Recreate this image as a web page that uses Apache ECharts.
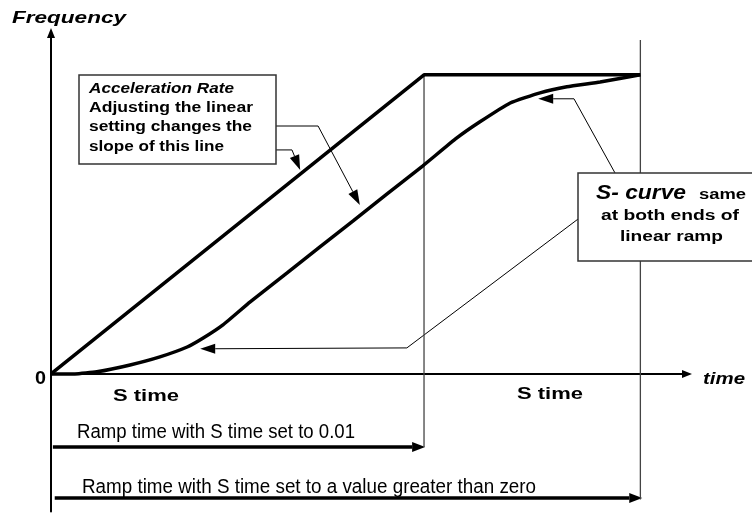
<!DOCTYPE html>
<html>
<head>
<meta charset="utf-8">
<script src="https://cdn.jsdelivr.net/npm/echarts@6/dist/echarts.min.js"></script>
<style>
  html, body { margin: 0; padding: 0; background: #fff; }
  #chart { width: 752px; height: 515px; }
</style>
</head>
<body>
<div id="chart"></div>
<script>
// time runs 0..170, frequency 0..100 (100 = set speed)
const linearRamp = [[0, 0], [100, 100], [158, 100]]
const sCurveTime = [0, 6.4, 12.3, 21.2, 29.2, 36.5, 40.8, 46.1, 53.4, 63.3, 72.1, 81.0, 90.1, 99.7, 108.8, 115.0, 123.1, 131.1, 138.3, 147.2, 158]
const sCurveFreq = [0, 0, 0.7, 3.0, 5.7, 9.0, 12.0, 16.4, 24.1, 33.8, 42.5, 51.2, 60.2, 69.6, 78.9, 84.3, 90.6, 94.0, 96.0, 97.6, 100]

// guide lines at the end of each ramp
const guideLinear = [[100, 100], [100, -24.4]]
const guideS = [[158, 111.7], [158, -42]]

// ramp time arrows under the axis
const rampArrows = [
  [[0.5, -24.4], [100.3, -24.4]],
  [[1, -41.5], [158.5, -41.5]]
]
// thin leader arrows from the notes
const leaderArrows = [
  [[60.3, 82.9], [71.6, 82.9], [82.8, 56.5]],
  [[60.3, 74.9], [64.6, 74.9], [66.8, 68.2]],
  [[151.2, 67.2], [140.2, 92.0], [130.6, 92.0]],
  [[141.3, 51.8], [95.4, 8.7], [40.0, 8.4]]
]

const chart = echarts.init(document.getElementById('chart'))

const measureCtx = document.createElement('canvas').getContext('2d')
// text in the figure is tracked wide, so stretch it to the measured width
function fitText (text, x, y, width, font) {
  measureCtx.font = font
  const w = measureCtx.measureText(text).width
  return {
    type: 'text', x: x, y: y, scaleX: width / w, z: 110,
    style: { text: text, font: font, fill: '#000', verticalAlign: 'middle' }
  }
}

function arrowSeries (list, width, headLen, headHalf) {
  return {
    type: 'custom',
    silent: true,
    data: list.map((a, i) => [i]),
    renderItem: function (params, api) {
      const pts = list[params.dataIndex].map(p => api.coord(p))
      const n = pts.length
      const tip = pts[n - 1]
      const prev = pts[n - 2]
      const ang = Math.atan2(tip[1] - prev[1], tip[0] - prev[0])
      const bx = tip[0] - headLen * Math.cos(ang)
      const by = tip[1] - headLen * Math.sin(ang)
      const head = [
        tip,
        [bx - headHalf * Math.sin(ang), by + headHalf * Math.cos(ang)],
        [bx + headHalf * Math.sin(ang), by - headHalf * Math.cos(ang)]
      ]
      return {
        type: 'group',
        children: [
          { type: 'polyline', shape: { points: pts.slice(0, n - 1).concat([[bx, by]]) }, style: { stroke: '#000', lineWidth: width, fill: null } },
          { type: 'polygon', shape: { points: head }, style: { fill: '#000' } }
        ]
      }
    }
  }
}

const sans = "'Liberation Sans', Arial, sans-serif"
const narrow = "'Liberation Sans Narrow', 'Liberation Sans', Arial, sans-serif"

const option = {
  animation: false,
  backgroundColor: '#fff',
  grid: { left: 51, right: 65, top: 33, bottom: 3.5, outerBoundsMode: 'none' },
  xAxis: {
    type: 'value', min: 0, max: 170.5,
    axisLine: { onZero: true, symbol: ['none', 'triangle'], symbolSize: [8, 10], lineStyle: { color: '#000', width: 2 } },
    axisTick: { show: false }, axisLabel: { show: false }, splitLine: { show: false }
  },
  yAxis: {
    type: 'value', min: -46, max: 114,
    axisLine: { show: true, onZero: true, symbol: ['none', 'triangle'], symbolSize: [8, 10], lineStyle: { color: '#000', width: 2 } },
    axisTick: { show: false }, axisLabel: { show: false }, splitLine: { show: false }
  },
  series: [
    {
      type: 'line', data: guideLinear, symbol: 'none', silent: true,
      lineStyle: { color: '#444', width: 1.3 }
    },
    {
      type: 'line', data: guideS, symbol: 'none', silent: true,
      lineStyle: { color: '#444', width: 1.3 }
    },
    {
      type: 'line', data: linearRamp, symbol: 'none', silent: true,
      lineStyle: { color: '#000', width: 3.5 }
    },
    {
      type: 'line', data: sCurveTime.map((t, i) => [t, sCurveFreq[i]]), symbol: 'none', silent: true,
      smooth: 0.15, lineStyle: { color: '#000', width: 3.5 }
    },
    arrowSeries(rampArrows, 3.5, 13, 5),
    arrowSeries(leaderArrows, 1, 15, 5)
  ],
  graphic: [
    { type: 'rect', shape: { x: 79, y: 75, width: 197, height: 89 }, z: 100, style: { fill: '#fff', stroke: '#333', lineWidth: 1.5 } },
    { type: 'rect', shape: { x: 578, y: 173, width: 185, height: 88 }, z: 100, style: { fill: '#fff', stroke: '#333', lineWidth: 1.5 } },
    fitText('Frequency', 12, 18, 114, 'italic bold 17px ' + sans),
    fitText('0', 35, 379, 11, 'bold 18px ' + sans),
    fitText('time', 703, 379, 42, 'italic bold 17px ' + sans),
    fitText('S time', 113, 396, 66, 'bold 17px ' + sans),
    fitText('S time', 517, 394, 66, 'bold 17px ' + sans),
    fitText('Ramp time with S time set to 0.01', 77, 432, 278, '20px ' + narrow),
    fitText('Ramp time with S time set to a value greater than zero', 82, 487, 454, '20px ' + narrow),
    fitText('Acceleration Rate', 89, 89, 145, 'italic bold 14px ' + sans),
    fitText('Adjusting the linear', 89, 108, 164, 'bold 14px ' + sans),
    fitText('setting changes the', 89, 127, 163, 'bold 14px ' + sans),
    fitText('slope of this line', 89, 147, 135, 'bold 14px ' + sans),
    fitText('S- curve', 596, 193, 90, 'italic bold 20px ' + sans),
    fitText('same', 699, 195, 47, 'bold 14px ' + sans),
    fitText('at both ends of', 601, 216, 138, 'bold 14px ' + sans),
    fitText('linear ramp', 620, 237, 103, 'bold 14px ' + sans)
  ]
}

chart.setOption(option)
</script>
</body>
</html>
